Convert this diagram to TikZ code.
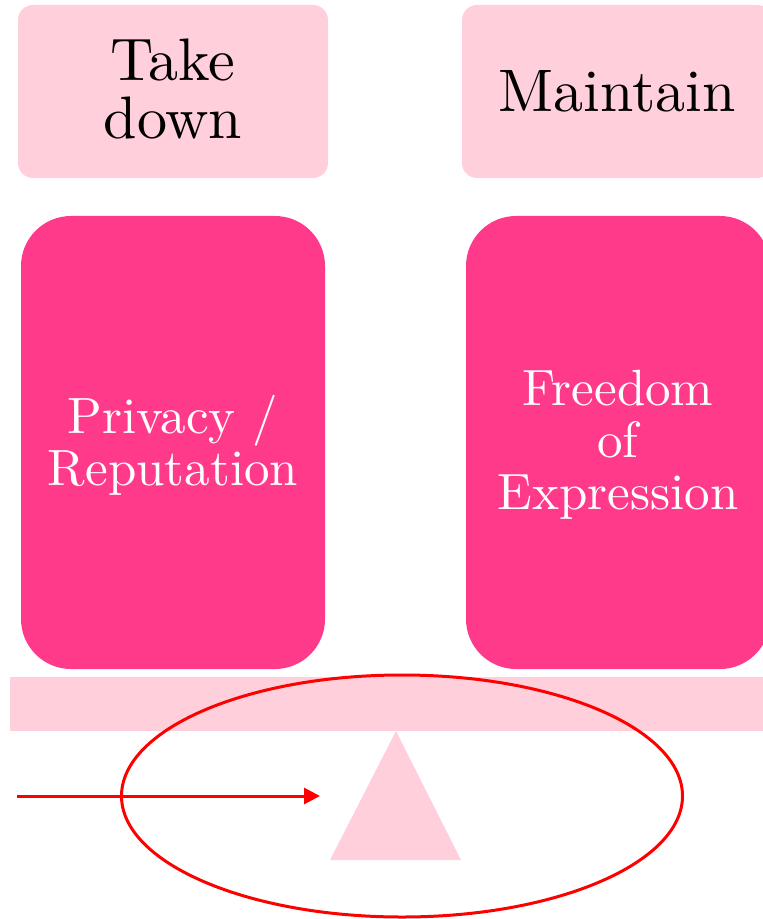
\documentclass[tikz,border=0pt]{standalone}
\usepackage{fontspec}
\setmainfont{lmroman10-regular.otf}
\usetikzlibrary{arrows.meta,shapes.geometric}
\definecolor{lightpink}{RGB}{255,207,220}
\definecolor{darkpink}{RGB}{255,58,138}
\definecolor{redline}{RGB}{255,0,0}
\begin{document}
\begin{tikzpicture}[x=0.5pt,y=-0.5pt,
  topbox/.style={fill=lightpink,rounded corners=7.5pt,minimum width=155pt,minimum height=86.5pt,inner sep=0pt},
  toptext/.style={inner sep=0pt,align=center,font=\fontsize{30}{29}\selectfont},
  valuebox/.style={fill=darkpink,rounded corners=25pt,minimum width=152pt,minimum height=226.5pt,inner sep=0pt},
  valuetext/.style={inner sep=0pt,align=center,text=white,font=\fontsize{25.5}{26}\selectfont},
  redstroke/.style={draw=redline,line width=1.5pt}]
\useasboundingbox (0,0) rectangle (763,919);
\clip (0,0) rectangle (763,919);
\node[topbox] (take) at (173,91.5) {};
\node[toptext] (taketext) at (173,89) {Take\\down};
\node[topbox] (maintain) at (617,91.5) {};
\node[toptext] (maintaintext) at (617,91.5) {Maintain};
\node[valuebox] (privacy) at (173,442.5) {};
\node[valuetext] (privacytext) at (173,445) {Privacy /\\Reputation};
\node[valuebox] (freedom) at (618,442.5) {};
\node[valuetext] (freedomtext) at (618,445) {Freedom\\of\\Expression};
\fill[lightpink] (10,677) rectangle (800,731);
\fill[lightpink] (396,731) -- (461,860) -- (330,860) -- cycle;
\node[ellipse,redstroke,minimum width=280.5pt,minimum height=121pt,inner sep=0pt] (focus) at (402,796) {};
\coordinate (arrowstart) at (17,796);
\coordinate (arrowend) at (320,796);
\draw[redstroke,-{Triangle[length=8pt,width=8pt]}] (arrowstart) -- (arrowend);
\end{tikzpicture}
\end{document}
